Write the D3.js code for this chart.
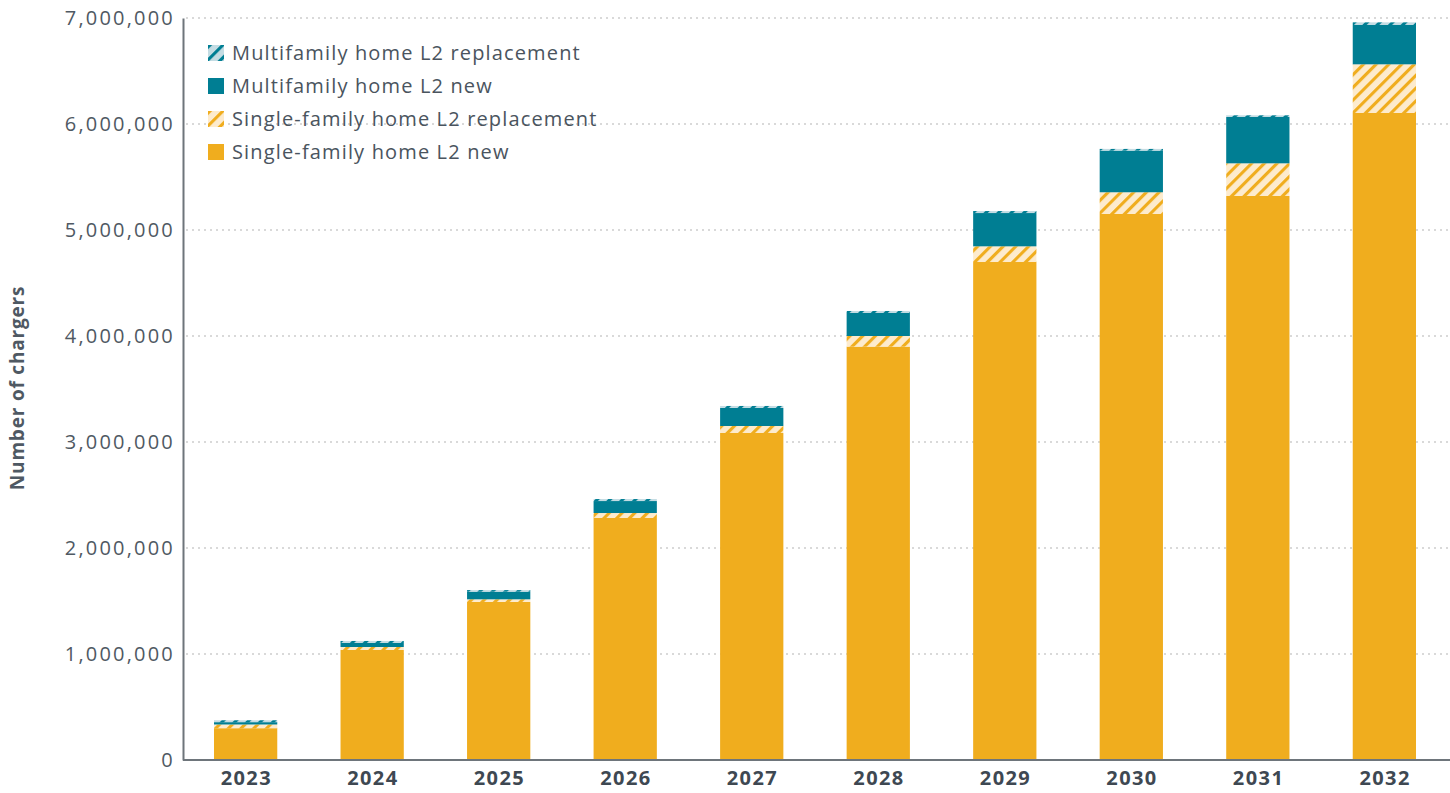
<!DOCTYPE html>
<html>
<head>
<meta charset="utf-8">
<script src="https://cdn.jsdelivr.net/npm/d3@7"></script>
<style>
  body { margin: 0; background: #fff; }
  svg { display: block; font-family: "Open Sans", sans-serif; }
</style>
</head>
<body>
<svg width="1450" height="793"></svg>
<script>
// data
var years = ["2023", "2024", "2025", "2026", "2027", "2028", "2029", "2030", "2031", "2032"];
var sfNew  = [300000, 1038000, 1491000, 2283000, 3085000, 3900000, 4698000, 5151000, 5321000, 6104000];
var sfRepl = [35000, 28000, 25000, 47000, 66000, 100000, 148000, 205000, 308000, 459000];
var mfNew  = [22000, 38000, 72000, 113000, 170000, 217000, 314000, 393000, 437000, 371000];
var mfRepl = [18000, 19000, 15000, 19000, 19000, 19000, 19000, 16000, 16000, 25000];
var yTicks = [0, 1000000, 2000000, 3000000, 4000000, 5000000, 6000000, 7000000];

var keys = ["sfNew", "sfRepl", "mfNew", "mfRepl"];
var labels = {
    mfRepl: "Multifamily home L2 replacement",
    mfNew: "Multifamily home L2 new",
    sfRepl: "Single-family home L2 replacement",
    sfNew: "Single-family home L2 new"
};
var fills = {
    sfNew: "#f0ad1e",
    sfRepl: "url(#hatch-sf)",
    mfNew: "#007e93",
    mfRepl: "url(#hatch-mf)"
};

var table = years.map(function(y, i) {
    return {year: y, sfNew: sfNew[i], sfRepl: sfRepl[i], mfNew: mfNew[i], mfRepl: mfRepl[i]};
});

var svg = d3.select("svg");
var margin = {top: 18, left: 183, right: 3, bottom: 33};
var width = 1450;
var height = 793;

// hatch patterns for the replacement series
var defs = svg.append("defs");
var makeHatch = function(id, bg, fg) {
    var p = defs.append("pattern")
        .attr("id", id)
        .attr("patternUnits", "userSpaceOnUse")
        .attr("width", 9)
        .attr("height", 9)
        .attr("patternTransform", "rotate(45)");
    p.append("rect").attr("width", 9).attr("height", 9).attr("fill", bg);
    p.append("line")
        .attr("x1", 1.5).attr("y1", 0).attr("x2", 1.5).attr("y2", 9)
        .attr("stroke", fg).attr("stroke-width", 3.2);
};
makeHatch("hatch-sf", "#fdebcd", "#f0ad1e");
makeHatch("hatch-mf", "#c4dce3", "#007e93");

var x = d3.scaleBand()
    .domain(years)
    .range([margin.left, width - margin.right])
    .paddingInner(0.5)
    .paddingOuter(0.245);

var y = d3.scaleLinear()
    .domain([0, 7000000])
    .range([height - margin.bottom, margin.top]);

// dotted gridlines
svg.append("g")
    .selectAll("line")
    .data(yTicks.slice(1))
    .enter().append("line")
        .attr("x1", margin.left + 3)
        .attr("x2", width)
        .attr("y1", function(d) { return y(d); })
        .attr("y2", function(d) { return y(d); })
        .attr("stroke", "#d9d9d9")
        .attr("stroke-width", 2)
        .attr("stroke-dasharray", "2,4");

// stacked bars
var series = d3.stack().keys(keys)(table);

svg.append("g")
    .selectAll("g")
    .data(series)
    .enter().append("g")
        .attr("fill", function(d) { return fills[d.key]; })
    .selectAll("rect")
    .data(function(d) { return d; })
    .enter().append("rect")
        .attr("x", function(d) { return x(d.data.year); })
        .attr("width", x.bandwidth())
        .attr("y", function(d) { return y(d[1]); })
        .attr("height", function(d) { return y(d[0]) - y(d[1]); });

// y axis
var yAxis = svg.append("g")
    .attr("transform", "translate(" + margin.left + ",0)")
    .attr("font-family", null)
    .call(d3.axisLeft(y).tickValues(yTicks).tickSize(0).tickPadding(8)
        .tickFormat(d3.format(",")));
yAxis.attr("font-family", null).attr("font-size", null);
yAxis.select(".domain").attr("stroke", "#6e757b").attr("stroke-width", 2);
yAxis.selectAll("text")
    .attr("fill", "#4f5963")
    .style("font-size", "20px")
    .style("letter-spacing", "2.2px");

// x axis
var xAxis = svg.append("g")
    .attr("transform", "translate(0," + (height - margin.bottom) + ")")
    .call(d3.axisBottom(x).tickSize(0).tickPadding(11));
xAxis.attr("font-family", null).attr("font-size", null);
xAxis.select(".domain")
    .attr("d", "M" + margin.left + ",0H" + width)
    .attr("stroke", "#6e757b").attr("stroke-width", 2);
xAxis.selectAll("text")
    .attr("fill", "#3e4852")
    .attr("dx", "0.7px")
    .style("font-size", "20px")
    .style("font-weight", "bold")
    .style("letter-spacing", "1.4px");

// y axis label
svg.append("text")
    .attr("text-anchor", "middle")
    .attr("transform", "translate(24," + 388 + ") rotate(-90)")
    .attr("fill", "#4f5963")
    .style("font-size", "19px")
    .style("font-weight", "bold")
    .style("letter-spacing", "0.8px")
    .text("Number of chargers");

// legend
var legendKeys = ["mfRepl", "mfNew", "sfRepl", "sfNew"];
var legend = svg.append("g")
    .attr("transform", "translate(208,45)");

var item = legend.selectAll("g")
    .data(legendKeys)
    .enter().append("g")
        .attr("transform", function(d, i) { return "translate(0," + (i * 33) + ")"; });

item.append("rect")
    .attr("width", 16)
    .attr("height", 16)
    .attr("fill", function(d) { return fills[d]; });

item.append("text")
    .attr("x", 24)
    .attr("y", 8)
    .attr("dy", "0.35em")
    .attr("fill", "#4a545e")
    .style("font-size", "20px")
    .style("letter-spacing", "1.15px")
    .text(function(d) { return labels[d]; });
</script>
</body>
</html>
